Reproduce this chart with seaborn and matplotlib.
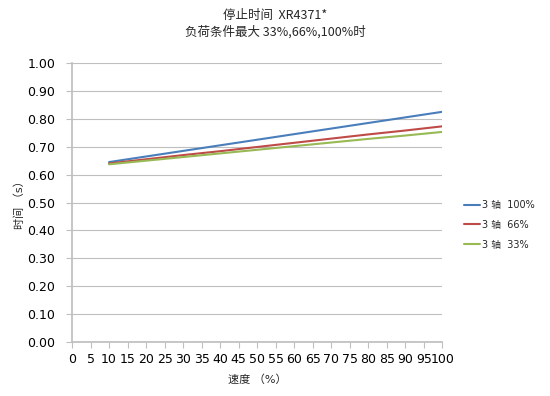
import pandas as pd
import matplotlib.pyplot as plt
import seaborn as sns
import numpy as np

# data
speed = [10, 20, 30, 40, 50, 60, 70, 80, 90, 100]
axis3_100 = [0.645, 0.665, 0.685, 0.705, 0.725, 0.745, 0.765, 0.785, 0.805, 0.825]
axis3_66 = [0.640, 0.655, 0.670, 0.684, 0.699, 0.714, 0.729, 0.744, 0.758, 0.773]
axis3_33 = [0.637, 0.650, 0.663, 0.676, 0.689, 0.702, 0.715, 0.728, 0.740, 0.753]
labels = ['3 轴  100%', '3 轴  66%', '3 轴  33%']
colors = ['#4A7EBB', '#BE4B48', '#98B954']

df = pd.DataFrame({
    'speed': speed * 3,
    'time': axis3_100 + axis3_66 + axis3_33,
    'series': [labels[0]] * 10 + [labels[1]] * 10 + [labels[2]] * 10,
})

sns.set_theme(style='white')
plt.rcParams['font.family'] = ['DejaVu Sans', 'Noto Sans CJK SC']

fig = plt.figure(figsize=(5.5, 3.96), dpi=100)
ax = fig.add_axes([0.131, 0.136, 0.673, 0.705])

sns.lineplot(data=df, x='speed', y='time', hue='series', palette=colors,
             linewidth=1.5, ax=ax)

ax.set_xlim(0, 100)
ax.set_ylim(0, 1.0)
ax.set_xticks(np.arange(0, 101, 5))
ax.set_yticks(np.arange(0, 1.01, 0.1))
ax.set_yticklabels([f'{v:.2f}' for v in np.arange(0, 1.01, 0.1)])
ax.yaxis.grid(True, color='#BFBFBF', linewidth=0.8)
ax.set_axisbelow(True)
for s in ['top', 'right']:
    ax.spines[s].set_visible(False)
ax.spines['left'].set_color('#BFBFBF')
ax.spines['bottom'].set_color('#BFBFBF')
ax.tick_params(axis='both', labelsize=9, colors='#BFBFBF', labelcolor='black',
               length=4, width=0.8, direction='out', left=True, bottom=True)
ax.tick_params(axis='x', pad=4)
ax.tick_params(axis='y', pad=8)

ax.set_xlabel('速度 （%）', fontsize=8, labelpad=6)
ax.set_ylabel('时间 （s）', fontsize=8, labelpad=2)

fig.text(0.5, 0.962, '停止时间  XR4371*', ha='center', va='center', fontsize=9,
         family=['Noto Sans CJK SC', 'DejaVu Sans'])
fig.text(0.5, 0.92, '负荷条件最大 33%,66%,100%时', ha='center', va='center', fontsize=9,
         family=['Noto Sans CJK SC', 'DejaVu Sans'])

ax.legend(loc='center left', bbox_to_anchor=(1.04, 0.42), frameon=False,
          fontsize=7, handlelength=1.7, handletextpad=0.2, labelspacing=1.0,
          borderaxespad=0.3)

fig.savefig('out.png', dpi=100)
